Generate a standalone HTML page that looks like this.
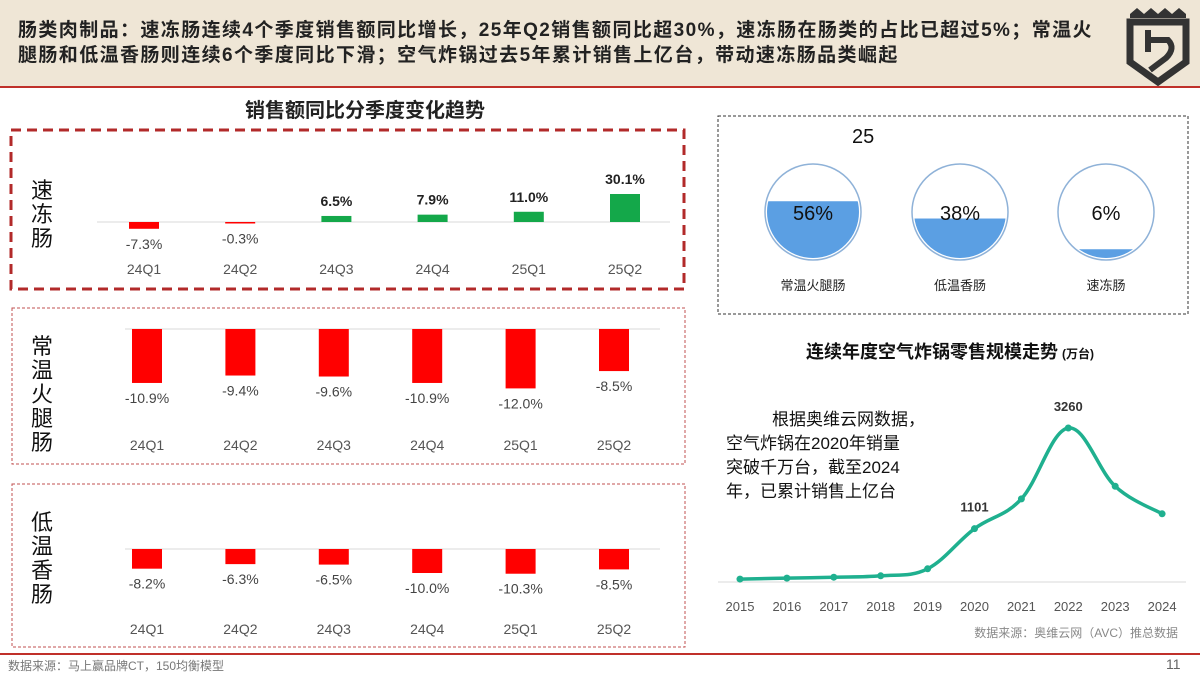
<!DOCTYPE html>
<html><head><meta charset="utf-8">
<style>
body{margin:0;width:1200px;height:675px;overflow:hidden;background:#fff;font-family:"Liberation Sans","Noto Sans CJK SC",sans-serif;position:relative}
.abs{position:absolute}
#header{left:0;top:0;width:1200px;height:86px;background:#efe6d6}
#hdr-line{left:0;top:86px;width:1200px;height:2px;background:#c0302a}
#title{left:18px;top:18px;width:1100px;font-size:19px;letter-spacing:1.4px;font-weight:bold;line-height:25px;color:#222;white-space:nowrap}
#foot-line{left:0;top:653px;width:1200px;height:2px;background:#c0302a}
svg text{font-family:"Liberation Sans","Noto Sans CJK SC",sans-serif}
</style></head><body>
<div class="abs" id="header"></div>
<div class="abs" id="hdr-line"></div>
<div class="abs" id="title">肠类肉制品：速冻肠连续4个季度销售额同比增长，25年Q2销售额同比超30%，速冻肠在肠类的占比已超过5%；常温火<br>腿肠和低温香肠则连续6个季度同比下滑；空气炸锅过去5年累计销售上亿台，带动速冻肠品类崛起</div>
<div class="abs" id="foot-line"></div>
<div class="abs" style="left:8px;top:657px;font-size:12px;color:#777">数据来源：马上赢品牌CT，150均衡模型</div>
<div class="abs" style="left:1166px;top:656px;font-size:14px;color:#666">11</div>

<svg class="abs" style="left:0;top:0" width="1200" height="675" id="chart">
<g>
<path d="M1130 14 L1137 8 L1144 14 L1151 8 L1158 14 L1165 8 L1172 14 L1179 8 L1186 14 L1186 18 L1130 18 Z" fill="#333"/>
<path d="M1130 22 L1186 22 L1186 62 L1158 82 L1130 62 Z" fill="none" stroke="#333" stroke-width="7"/>
<path d="M1148 30 L1148 52 M1148 40 L1168 40 Q1176 48 1166 58 L1150 70" fill="none" stroke="#333" stroke-width="6"/>
</g>
<text x="365" y="117" font-size="20" font-weight="bold" text-anchor="middle" fill="#222">销售额同比分季度变化趋势</text>
<rect x="11" y="130" width="673" height="159" fill="none" stroke="#b22a2a" stroke-width="3" stroke-dasharray="10,6"/>
<rect x="12" y="308" width="673" height="156" fill="none" stroke="#c05050" stroke-width="1" stroke-dasharray="3,2"/>
<rect x="12" y="484" width="673" height="163" fill="none" stroke="#c05050" stroke-width="1" stroke-dasharray="3,2"/>
<rect x="718" y="116" width="470" height="198" fill="none" stroke="#333" stroke-width="1" stroke-dasharray="3,2"/>
<text x="852" y="143" font-size="20" fill="#111">25</text>
<text x="950" y="358" font-size="18" font-weight="bold" text-anchor="middle" fill="#111">连续年度空气炸锅零售规模走势<tspan font-size="12" dx="4">(万台)</tspan></text>
<g font-size="17" fill="#111">
<text x="772" y="425">根据奥维云网数据，</text>
<text x="726" y="449">空气炸锅在2020年销量</text>
<text x="726" y="473">突破千万台，截至2024</text>
<text x="726" y="497">年，已累计销售上亿台</text>
</g>
<text x="1178" y="637" font-size="12" fill="#888" text-anchor="end">数据来源：奥维云网（AVC）推总数据</text>
</svg>
<script>
const quarters=["24Q1","24Q2","24Q3","24Q4","25Q1","25Q2"];
const frozenVals=[-7.3,-0.3,6.5,7.9,11.0,30.1];
const ambientVals=[-10.9,-9.4,-9.6,-10.9,-12.0,-8.5];
const lowtempVals=[-8.2,-6.3,-6.5,-10.0,-10.3,-8.5];
const shareNames=["常温火腿肠","低温香肠","速冻肠"];
const shareVals=[56,38,6];
const years=["2015","2016","2017","2018","2019","2020","2021","2022","2023","2024"];
const fryerVals=[20,40,60,90,240,1101,1740,3260,2010,1420];
const fryerLabels={5:"1101",7:"3260"};

const svg=document.getElementById('chart');
const NS='http://www.w3.org/2000/svg';
function mk(tag,attrs,txt){const e=document.createElementNS(NS,tag);for(const k in attrs)e.setAttribute(k,attrs[k]);if(txt!==undefined)e.textContent=txt;svg.appendChild(e);return e;}

const panels=[
 {vals:frozenVals,zero:222,scale:0.93,x0:144,step:96.2,lx:72,lx2:670,name:"速冻肠",ny:178,catY:274},
 {vals:ambientVals,zero:329,scale:4.95,x0:147,step:93.4,lx:100,lx2:660,name:"常温火腿肠",ny:334,catY:450},
 {vals:lowtempVals,zero:549,scale:2.4,x0:147,step:93.4,lx:100,lx2:660,name:"低温香肠",ny:510,catY:634}
];
panels.forEach((p,pi)=>{
 const zl=mk('line',{x1:p.lx+25,x2:p.lx2,y1:p.zero,y2:p.zero,stroke:'#d9d9d9','stroke-width':1});
 
 
 [...p.name].forEach((ch,i)=>{
  const t=mk('text',{x:42,y:p.ny+i*24+20,'font-size':22,'text-anchor':'middle',fill:'#111'},ch);
  
  
 });
 p.vals.forEach((v,i)=>{
  const cx=p.x0+i*p.step,h=Math.max(Math.abs(v)*p.scale,1.5);
  const y=v>=0?p.zero-h:p.zero;
  const r=mk('rect',{x:cx-15,y:y,width:30,height:h,fill:v>=0?'#14a84a':'#ff0000'});
  
  
  const lbl=v.toFixed(1)+'%';
  const ly=v>=0?p.zero-h-10:p.zero+h+20;
  const t=mk('text',{x:cx,y:ly,'font-size':14,'text-anchor':'middle',fill:v>=0?'#222':'#444','font-weight':v>=0?'bold':'normal'},lbl);
  
  
  const c=mk('text',{x:cx,y:p.catY,'font-size':14,'text-anchor':'middle',fill:'#555'},quarters[i]);
  
  
 });
});

// share circles
const cxs=[813,960,1106],cy=212,R=48;
shareVals.forEach((v,i)=>{
 const cx=cxs[i];
 const id='clip'+i;
 const cp=mk('clipPath',{id:id});
 const cc=document.createElementNS(NS,'circle');cc.setAttribute('cx',cx);cc.setAttribute('cy',cy);cc.setAttribute('r',R-2);cp.appendChild(cc);
 const lvl=cy+R-2*R*v/100-5;
 const f=mk('rect',{x:cx-R,y:lvl,width:2*R,height:2*R,fill:'#5b9fe3','clip-path':'url(#'+id+')'});
 
 
 const c=mk('circle',{cx:cx,cy:cy,r:R,fill:'none',stroke:'#8fb2d8','stroke-width':1.5});
 
 
 const t=mk('text',{x:cx,y:cy+8,'font-size':20,'text-anchor':'middle',fill:'#111'},v+'%');
 
 
 const n=mk('text',{x:cx,y:cy+78,'font-size':13,'text-anchor':'middle',fill:'#222'},shareNames[i]);
 
 
});

// line chart
const lx0=740,lstep=46.9,ly0=580,lys=152/3260;
const X=i=>lx0+i*lstep, Y=v=>ly0-v*lys;
const ax=mk('line',{x1:718,x2:1186,y1:582,y2:582,stroke:'#d9d9d9','stroke-width':1});


const pts=fryerVals.map((v,i)=>[X(i),Y(v)]);
let d='M'+pts[0][0]+' '+pts[0][1];
for(let i=0;i<pts.length-1;i++){
 const p0=pts[i-1]||pts[i],p1=pts[i],p2=pts[i+1],p3=pts[i+2]||p2;
 const t=0.18;
 d+=' C'+(p1[0]+(p2[0]-p0[0])*t)+' '+(p1[1]+(p2[1]-p0[1])*t)+' '+(p2[0]-(p3[0]-p1[0])*t)+' '+(p2[1]-(p3[1]-p1[1])*t)+' '+p2[0]+' '+p2[1];
}
const ln=mk('path',{d:d,fill:'none',stroke:'#1fb08f','stroke-width':3.5,'stroke-linecap':'round'});


pts.forEach((p,i)=>{
 const c=mk('circle',{cx:p[0],cy:p[1],r:3.5,fill:'#1fb08f'});
 
 
 const t=mk('text',{x:p[0],y:611,'font-size':13,'text-anchor':'middle',fill:'#555'},years[i]);
 
 
 if(fryerLabels[i]){
  const l=mk('text',{x:p[0],y:p[1]-17,'font-size':13,'font-weight':'bold','text-anchor':'middle',fill:'#333'},fryerLabels[i]);
  
  
 }
});
</script>
</body></html>
